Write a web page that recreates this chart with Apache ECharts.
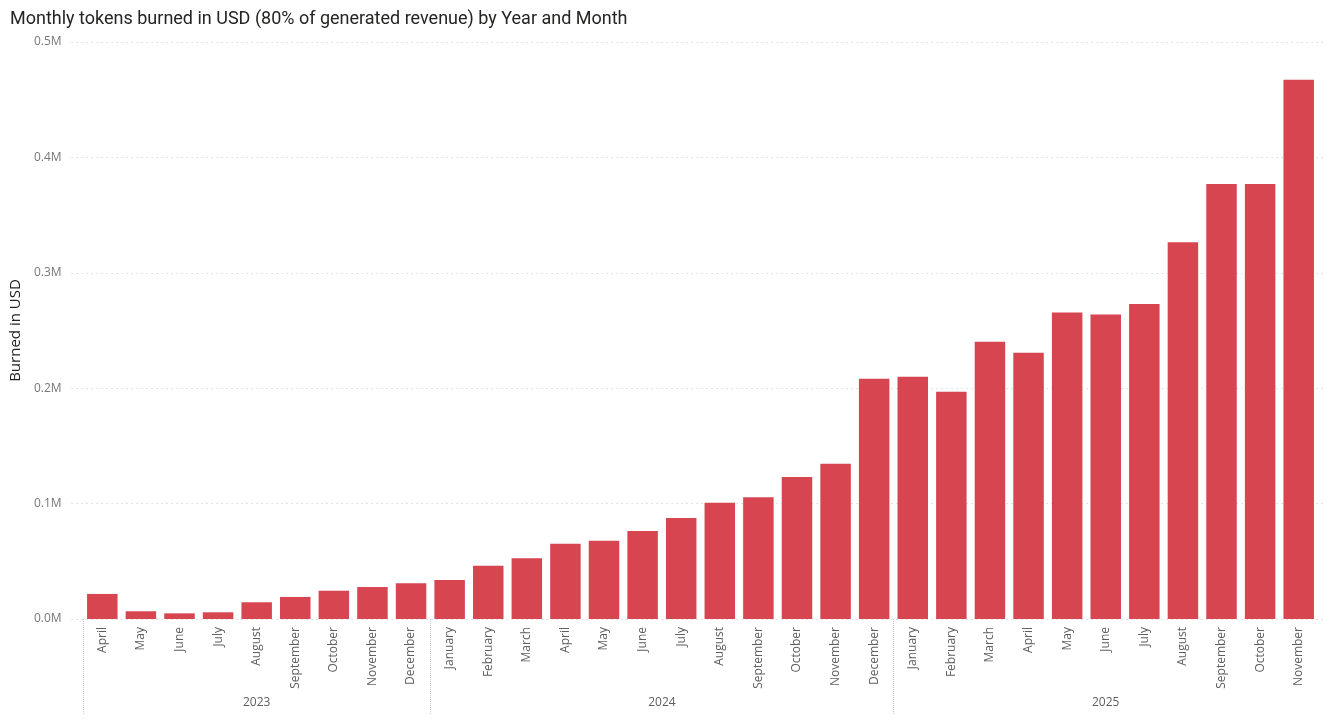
<!DOCTYPE html>
<html>
<head>
<meta charset="utf-8">
<script src="https://cdn.jsdelivr.net/npm/echarts@6/dist/echarts.min.js"></script>
<style>html,body{margin:0;padding:0;background:#fff;}#chart{width:1331px;height:720px;}</style>
</head>
<body>
<div id="chart"></div>
<script>
const titleText = 'Monthly tokens burned in USD (80% of generated revenue) by Year and Month';
const yAxisName = 'Burned in USD';
const months = ['April','May','June','July','August','September','October','November','December',
  'January','February','March','April','May','June','July','August','September','October','November','December',
  'January','February','March','April','May','June','July','August','September','October','November'];
const years = ['2023','2024','2025'];
const yearMonthCounts = [9, 12, 11];
const burned = [21700, 6700, 4900, 5800, 14500, 19100, 24500, 27700, 30900,
  33800, 46200, 52600, 65300, 67900, 76300, 87500, 100800, 105500, 123100, 134600, 208200,
  209900, 196900, 240200, 230700, 265700, 263900, 272900, 326400, 377000, 377000, 467200];
const yTicks = [0, 100000, 200000, 300000, 400000, 500000];

// year boundaries and centers in month units
const yearStarts = [];
const yearCenters = [];
let acc = 0;
yearMonthCounts.forEach(c => { yearStarts.push(acc); yearCenters.push(acc + c / 2); acc += c; });

const labelColor = '#605E5C';
const fontFam = '"Open Sans", "Noto Sans", sans-serif';
const chart = echarts.init(document.getElementById('chart'));
chart.setOption({
  animation: false,
  title: {
    text: titleText, left: 5, top: 5,
    textStyle: { fontFamily: 'Roboto, sans-serif', fontSize: 18, fontWeight: 'normal', color: '#252423' }
  },
  grid: [
    { left: 70, right: 6, top: 42, bottom: 101, containLabel: false },
    { left: 83, right: 13, top: 42, bottom: 101, containLabel: false }
  ],
  xAxis: [
    { gridIndex: 0, type: 'value', min: 0, max: 1, show: false },
    {
      gridIndex: 1, type: 'category', data: months,
      axisLine: { show: false },
      axisTick: { show: false },
      axisLabel: { rotate: 90, interval: 0, margin: 8, color: labelColor, fontSize: 12, fontFamily: fontFam }
    },
    {
      gridIndex: 1, type: 'value', min: 0, max: months.length, position: 'bottom',
      axisLine: { show: false },
      splitLine: { show: false },
      axisTick: { show: true, customValues: yearStarts, length: 96, lineStyle: { color: '#C8C6C4', type: 'dotted', width: 1 } },
      axisLabel: {
        customValues: yearCenters, margin: 78, color: labelColor, fontSize: 12, fontFamily: fontFam,
        formatter: v => { const i = yearCenters.indexOf(v); return i >= 0 ? years[i] : ''; }
      }
    }
  ],
  yAxis: [
    {
      gridIndex: 0, type: 'value', min: yTicks[0], max: yTicks[yTicks.length - 1], interval: 100000,
      name: yAxisName, nameLocation: 'middle', nameGap: 47,
      nameTextStyle: { color: '#252423', fontSize: 15, fontFamily: fontFam },
      axisLine: { show: false }, axisTick: { show: false },
      axisLabel: { margin: 10, color: '#777777', fontSize: 12, fontFamily: fontFam,
        formatter: v => (v / 1e6).toFixed(1) + 'M' },
      splitLine: { show: true, lineStyle: { color: '#C8C6C4', type: [1, 4], width: 1 } }
    },
    {
      gridIndex: 1, type: 'value', min: yTicks[0], max: yTicks[yTicks.length - 1], interval: 100000,
      show: false, splitLine: { show: false }
    }
  ],
  series: [{
    type: 'bar', xAxisIndex: 1, yAxisIndex: 1, data: burned,
    barCategoryGap: '21%',
    itemStyle: { color: '#D64550' }
  }]
});
</script>
</body>
</html>
